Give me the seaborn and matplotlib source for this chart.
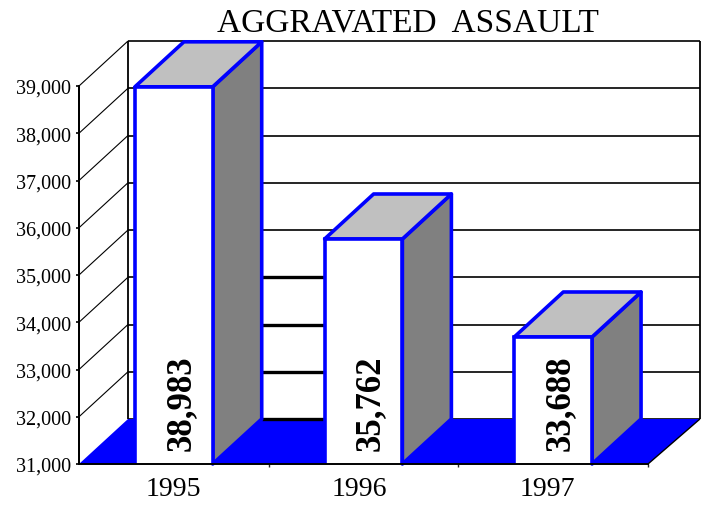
import matplotlib
matplotlib.use('Agg')
import matplotlib.pyplot as plt
from matplotlib.patches import Polygon
import seaborn as sns

years = ['1995', '1996', '1997']
assaults = [38983, 35762, 33688]
ytick_vals = [31000, 32000, 33000, 34000, 35000, 36000, 37000, 38000, 39000]
title_text = 'AGGRAVATED  ASSAULT'

BLUE = '#0000ff'
W, H = 708, 506

sns.set_style('white')
plt.rcParams['font.family'] = ['Liberation Serif', 'DejaVu Serif']

fig = plt.figure(figsize=(W / 100, H / 100), dpi=100)
ax = fig.add_axes([79 / W, (H - 465) / H, (648 - 79) / W, (465 - 87) / H])

sns.barplot(x=years, y=assaults, color='white', width=0.41, saturation=1,
            edgecolor=BLUE, linewidth=2.6, ax=ax, zorder=5)
bars = sorted(ax.patches, key=lambda p: p.get_x())
ax.set_xlim(-0.5, 2.5)
ax.set_ylim(31000, 39000)
ax.set_xlabel('')
ax.set_ylabel('')

# depth of the fake 3d box, in data units
dx = 49 / ((648 - 79) / 3)
dy = 45 / ((465 - 87) / 8000)
x0, x1 = -0.5, 2.5
ymin, ymax = 31000, 39000
back_l = x0 + dx
back_r = x1 + dx * 1.06


def poly(pts, z, **kw):
    ax.add_patch(Polygon(pts, closed=True, clip_on=False, zorder=z,
                         joinstyle='round', **kw))


def seg(xs, ys, z=1, lw=1.0):
    ax.plot(xs, ys, color='black', lw=lw, clip_on=False, zorder=z,
            solid_capstyle='butt')


# floor
poly([(x0, ymin), (back_l, ymin + dy), (back_r, ymin + dy), (x1, ymin)], 2,
     facecolor=BLUE, edgecolor='none')

# walls
seg([back_l, back_l], [ymin + dy, ymax + dy], lw=1.3)
seg([back_r, back_r], [ymin + dy, ymax + dy], lw=1.3)
seg([x0, x0], [ymin, ymax], lw=1.4)
seg([x1, back_r], [ymin, ymin + dy], z=3, lw=1.0)

for v in ytick_vals:
    seg([back_l, back_r], [v + dy, v + dy], lw=1.2)
    if v > ymin:
        seg([x0, back_l], [v, v + dy], lw=0.8)

# the thicker stretch of grid between the first two bars
for v in ytick_vals[:4]:
    seg([bars[0].get_x() + bars[0].get_width() + dx, bars[1].get_x()],
        [v + dy, v + dy], z=3, lw=2.4)

# sides and tops of the bars
for b, val in zip(bars, assaults):
    l = b.get_x()
    r = l + b.get_width()
    poly([(r, ymin), (r + dx, ymin + dy), (r + dx, val + dy), (r, val)], 4,
         facecolor='#808080', edgecolor=BLUE, linewidth=2.6)
    poly([(l, val), (l + dx, val + dy), (r + dx, val + dy), (r, val)], 4,
         facecolor='#c0c0c0', edgecolor=BLUE, linewidth=2.6)
    ax.annotate(f'{val:,}', xy=((l + r) / 2, ymin), xytext=(5, 10),
                textcoords='offset points', rotation=90, ha='center', va='bottom',
                fontsize=25, fontweight='bold', color='black', zorder=6,
                annotation_clip=False)

sns.despine(ax=ax, top=True, right=True)
ax.spines['left'].set_linewidth(1.4)
ax.spines['bottom'].set_linewidth(1.4)
ax.spines['bottom'].set_zorder(7)
ax.spines['bottom'].set_color('black')
ax.spines['left'].set_color('black')

ax.set_yticks(ytick_vals)
ax.set_yticklabels([f'{v:,}' for v in ytick_vals], fontsize=14.5)
ax.tick_params(axis='y', length=2, width=1.2, left=True, pad=4, colors='black')
ax.set_xticks([0, 0.98, 1.97])
ax.set_xticklabels(years, fontsize=20)
ax.set_xticks([0.5, 1.5, 2.5], minor=True)
ax.tick_params(axis='x', which='major', length=0, pad=9, colors='black')
ax.tick_params(axis='x', which='minor', length=2, width=1.0, bottom=True)

fig.text(408 / W, (H - 23) / H, title_text, ha='center', va='center',
         fontsize=24, color='black')

fig.savefig('out.png', dpi=100)
